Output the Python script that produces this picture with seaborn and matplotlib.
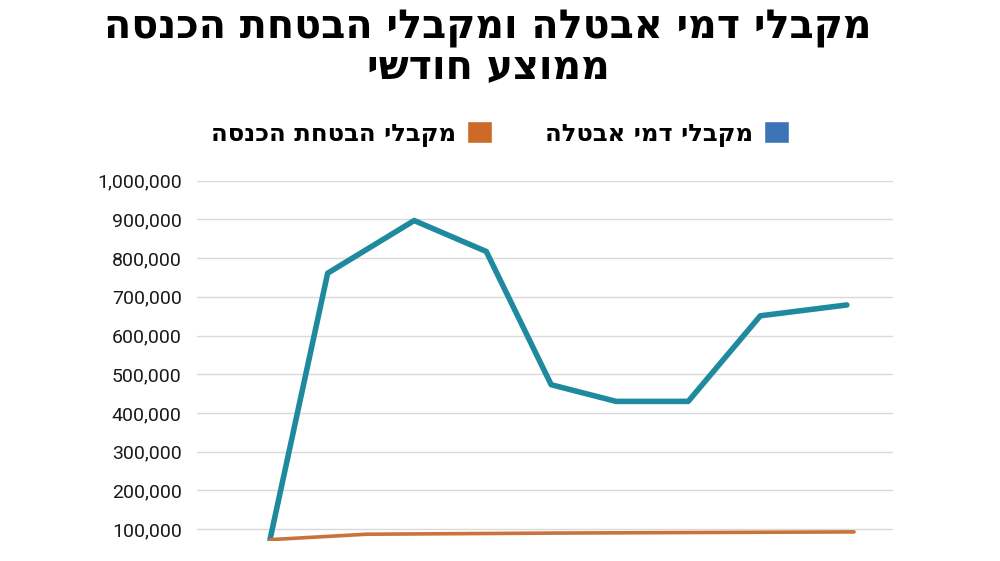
import pandas as pd
import matplotlib
matplotlib.use("Agg")
import matplotlib.pyplot as plt
from matplotlib.patches import Patch
from matplotlib.ticker import FuncFormatter
import seaborn as sns

# data (x in arbitrary time units)
unemp_x = [0, 4, 10, 15, 19.5, 24, 29, 34, 40]
unemp_y = [73000, 761000, 897000, 817000, 473000, 430000, 430000, 651000, 679000]
income_x = [0, 6.7, 20, 40.5]
income_y = [73000, 87000, 90000, 93000]

title_1 = "מקבלי דמי אבטלה ומקבלי הבטחת הכנסה"
title_2 = "ממוצע חודשי"
lbl_unemp = "מקבלי דמי אבטלה"
lbl_income = "מקבלי הבטחת הכנסה"
yticks = list(range(100000, 1000001, 100000))


def rtl(s):
    # matplotlib has no bidi support, so flip Hebrew by hand
    return s[::-1]


df = pd.concat([
    pd.DataFrame({"x": unemp_x, "y": unemp_y, "series": "unemp"}),
    pd.DataFrame({"x": income_x, "y": income_y, "series": "income"}),
])

sns.set_style("white")
plt.rcParams["font.family"] = ["DejaVu Sans"]

fig = plt.figure(figsize=(10, 5.61), dpi=100)
ax = fig.add_axes([0.197, 0.036, 0.696, 0.642])

sns.lineplot(data=df[df.series == "unemp"], x="x", y="y", color="#1f8a9e",
             linewidth=4.0, ax=ax, legend=False, solid_capstyle="round")
sns.lineplot(data=df[df.series == "income"], x="x", y="y", color="#c8733a",
             linewidth=2.6, ax=ax, legend=False)

ax.set_xlim(-5.06, 43.2)
ax.set_ylim(70000, 1000000)
ax.set_yticks(yticks)
ax.yaxis.set_major_formatter(FuncFormatter(lambda v, p: f"{int(v):,}"))
ax.set_xticks([])
ax.set_xlabel("")
ax.set_ylabel("")
ax.grid(axis="y", color="#d9d9d9", linewidth=1)
ax.set_axisbelow(True)
for s in ax.spines.values():
    s.set_visible(False)
ax.tick_params(axis="y", length=0, pad=11, labelsize=14, labelcolor="#1a1a1a")
for lbl in ax.get_yticklabels():
    lbl.set_family(["Roboto", "DejaVu Sans"])

fig.text(0.488, 0.950, rtl(title_1), ha="center", va="center", color="black",
         fontsize=28.5, fontweight="bold", family="DejaVu Sans")
fig.text(0.488, 0.880, rtl(title_2), ha="center", va="center", color="black",
         fontsize=28.5, fontweight="bold", family="DejaVu Sans")

handles = [Patch(facecolor="#cc6a2a"), Patch(facecolor="#3d74b8")]
labels = [rtl(lbl_income), rtl(lbl_unemp)]
leg = fig.legend(handles, labels, loc="center", bbox_to_anchor=(0.5, 0.761), ncol=2,
                 frameon=False, markerfirst=False, handlelength=1.0, handleheight=1.0,
                 columnspacing=2.2, handletextpad=0.45,
                 prop={"size": 17.5, "weight": "bold"})
for t in leg.get_texts():
    t.set_color("black")

fig.savefig("out.png", dpi=100)
